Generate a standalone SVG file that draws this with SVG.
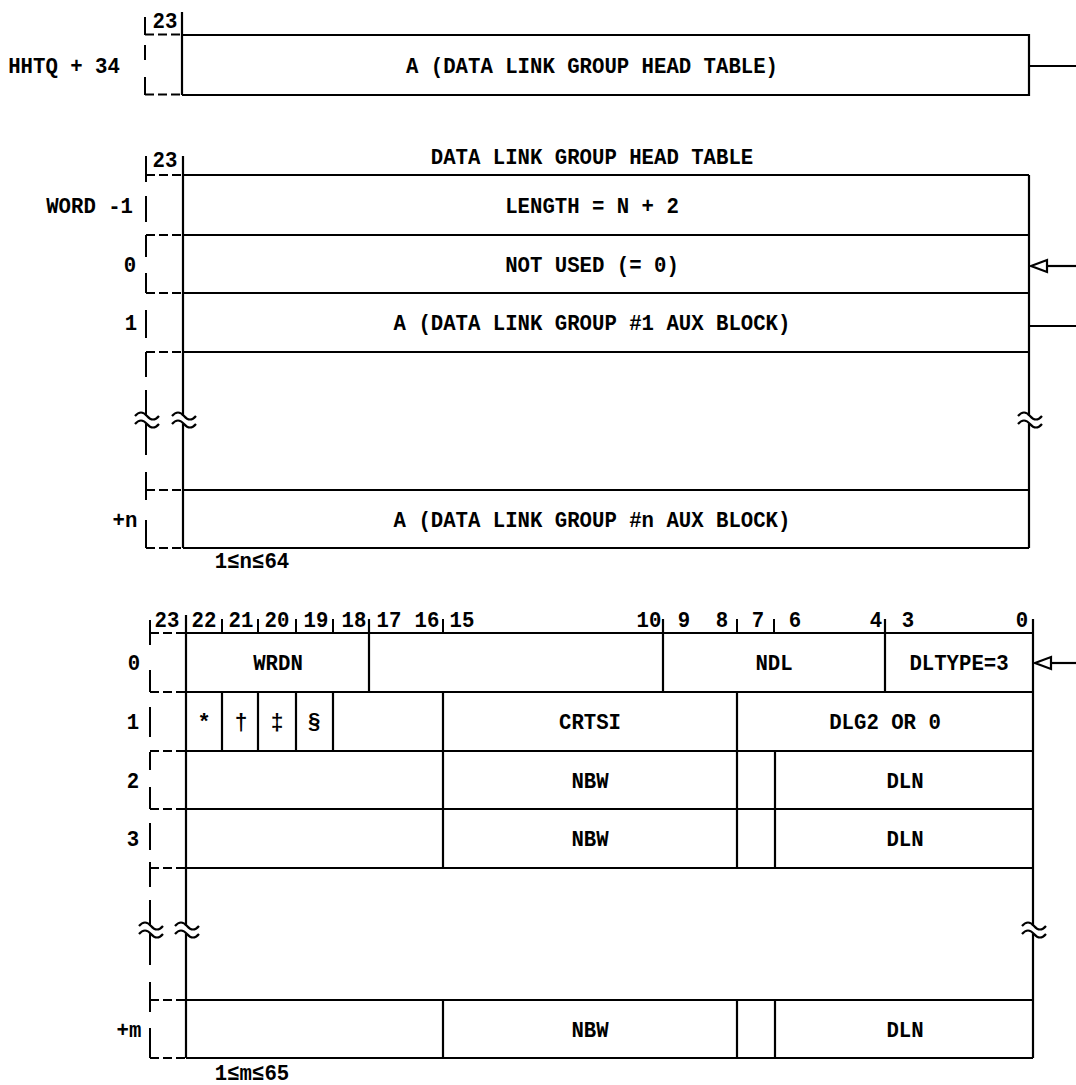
<svg xmlns="http://www.w3.org/2000/svg" xmlns:xlink="http://www.w3.org/1999/xlink" width="1076" height="1085" viewBox="0 0 1076 1085">
<style>
.ln{stroke:#000;stroke-width:2.2;fill:none}
.tk{stroke:#000;stroke-width:2;fill:none}
.ds{stroke:#000;stroke-width:2;fill:none;stroke-dasharray:9 4}
.t{font-family:"Liberation Mono","DejaVu Sans Mono",monospace;font-weight:bold;font-size:22px;text-anchor:middle;fill:#000}
.ar{fill:#fff;stroke:#000;stroke-width:2.2}
</style>
<defs>
<path id="brk" d="M-12 -4 Q-6 -11 0 -4 T12 -4 M-12 4 Q-6 -3 0 4 T12 4" stroke="#000" stroke-width="2.2" fill="none"/>
</defs>
<rect width="1076" height="1085" fill="#fff"/>

<g id="hhtq-pointer">
<path class="ln" d="M182 12 V95 M182 35 H1029 V95 H182"/>
<path class="tk" d="M145 17 V35 M145 45 V60 M145 77 V95"/>
<path class="ds" d="M145 34.5 H182 M145 94.5 H182"/>
<text class="t" x="165" y="28" textLength="24.8" lengthAdjust="spacingAndGlyphs">23</text>
<text class="t" x="64" y="73" textLength="111.6" lengthAdjust="spacingAndGlyphs">HHTQ + 34</text>
<text class="t" x="592" y="73" textLength="372" lengthAdjust="spacingAndGlyphs">A (DATA LINK GROUP HEAD TABLE)</text>
</g>

<g id="head-table">
<text class="t" x="592" y="164" textLength="322.4" lengthAdjust="spacingAndGlyphs">DATA LINK GROUP HEAD TABLE</text>
<text class="t" x="165" y="167" textLength="24.8" lengthAdjust="spacingAndGlyphs">23</text>
<path class="ln" d="M183 156 V416 M183 424 V548 M1029 175 V416 M1029 424 V548 M183 175 H1029 M183 235 H1029 M183 293 H1029 M183 352 H1029 M183 490 H1029 M183 548 H1029"/>
<path class="ds" d="M146 175 H183 M146 235 H183 M146 293 H183 M146 352 H183 M146 490 H183 M146 548 H183"/>
<path class="tk" d="M146 156 V182 M146 196 V222 M146 235 V257 M146 273 V293 M146 310 V338 M146 352 V377 M146 390 V416 M146 424 V455 M146 472 V500 M146 520 V548"/>
<use xlink:href="#brk" x="147" y="420"/>
<use xlink:href="#brk" x="184" y="420"/>
<use xlink:href="#brk" x="1030" y="420"/>
</g>
<g id="ht-word-m1">
<text class="t" x="89.6" y="213" textLength="86.8" lengthAdjust="spacingAndGlyphs">WORD -1</text>
<text class="t" x="592" y="213" textLength="173.6" lengthAdjust="spacingAndGlyphs">LENGTH = N + 2</text>
</g>
<g id="ht-word-0">
<text class="t" x="130" y="272" textLength="12.4" lengthAdjust="spacingAndGlyphs">0</text>
<text class="t" x="592" y="272" textLength="173.6" lengthAdjust="spacingAndGlyphs">NOT USED (= 0)</text>
</g>
<g id="ht-word-1">
<text class="t" x="131" y="330" textLength="12.4" lengthAdjust="spacingAndGlyphs">1</text>
<text class="t" x="592" y="330" textLength="396.8" lengthAdjust="spacingAndGlyphs">A (DATA LINK GROUP #1 AUX BLOCK)</text>
</g>
<g id="ht-word-n">
<text class="t" x="125" y="527" textLength="24.8" lengthAdjust="spacingAndGlyphs">+n</text>
<text class="t" x="592" y="527" textLength="396.8" lengthAdjust="spacingAndGlyphs">A (DATA LINK GROUP #n AUX BLOCK)</text>
<text class="t" x="252" y="568" textLength="74.4" lengthAdjust="spacingAndGlyphs">1≤n≤64</text>
</g>

<g id="aux-block">
<g class="t">
<text x="167" y="627" textLength="24.8" lengthAdjust="spacingAndGlyphs">23</text>
<text x="204" y="627" textLength="24.8" lengthAdjust="spacingAndGlyphs">22</text>
<text x="241" y="627" textLength="24.8" lengthAdjust="spacingAndGlyphs">21</text>
<text x="277" y="627" textLength="24.8" lengthAdjust="spacingAndGlyphs">20</text>
<text x="316" y="627" textLength="24.8" lengthAdjust="spacingAndGlyphs">19</text>
<text x="354" y="627" textLength="24.8" lengthAdjust="spacingAndGlyphs">18</text>
<text x="389" y="627" textLength="24.8" lengthAdjust="spacingAndGlyphs">17</text>
<text x="427" y="627" textLength="24.8" lengthAdjust="spacingAndGlyphs">16</text>
<text x="462" y="627" textLength="24.8" lengthAdjust="spacingAndGlyphs">15</text>
<text x="649" y="627" textLength="24.8" lengthAdjust="spacingAndGlyphs">10</text>
<text x="684" y="627" textLength="12.4" lengthAdjust="spacingAndGlyphs">9</text>
<text x="722" y="627" textLength="12.4" lengthAdjust="spacingAndGlyphs">8</text>
<text x="758" y="627" textLength="12.4" lengthAdjust="spacingAndGlyphs">7</text>
<text x="795" y="627" textLength="12.4" lengthAdjust="spacingAndGlyphs">6</text>
<text x="876" y="627" textLength="12.4" lengthAdjust="spacingAndGlyphs">4</text>
<text x="908" y="627" textLength="12.4" lengthAdjust="spacingAndGlyphs">3</text>
<text x="1022" y="627" textLength="12.4" lengthAdjust="spacingAndGlyphs">0</text>
</g>
<path class="ln" d="M186 615 V926 M186 934 V1058 M1033 619 V926 M1033 934 V1058 M186 633 H1033 M186 692 H1033 M186 751 H1033 M186 809 H1033 M186 868 H1033 M186 1000 H1033 M186 1058 H1033"/>
<path class="tk" d="M222 619 V633 M258 619 V633 M296 619 V633 M333 619 V633 M443 619 V633 M737 619 V633 M774 619 V633"/>
<path class="ln" d="M369 619 V692 M663 619 V692 M885 619 V692 M222 692 V751 M258 692 V751 M296 692 V751 M333 692 V751 M443 692 V868 M737 692 V868 M775 751 V868 M443 1000 V1058 M737 1000 V1058 M775 1000 V1058"/>
<path class="ds" d="M150 633 H186 M150 692 H186 M150 751 H186 M150 809 H186 M150 868 H186 M150 1000 H186 M150 1058 H186"/>
<path class="tk" d="M150 620 V645 M150 670 V692 M150 707 V737 M150 752 V770 M150 787 V809 M150 823 V850 M150 862 V887 M150 900 V926 M150 934 V965 M150 982 V1012 M150 1028 V1058"/>
<use xlink:href="#brk" x="151" y="930"/>
<use xlink:href="#brk" x="187" y="930"/>
<use xlink:href="#brk" x="1034" y="930"/>
<text class="t" x="252" y="1080" textLength="74.4" lengthAdjust="spacingAndGlyphs">1≤m≤65</text>
</g>
<g id="aux-word-0">
<text class="t" x="134" y="670" textLength="12.4" lengthAdjust="spacingAndGlyphs">0</text>
<text class="t" x="278" y="670" textLength="49.6" lengthAdjust="spacingAndGlyphs">WRDN</text>
<text class="t" x="774" y="670" textLength="37.2" lengthAdjust="spacingAndGlyphs">NDL</text>
<text class="t" x="959" y="670" textLength="99.2" lengthAdjust="spacingAndGlyphs">DLTYPE=3</text>
</g>
<g id="aux-word-1">
<text class="t" x="133" y="729" textLength="12.4" lengthAdjust="spacingAndGlyphs">1</text>
<text class="t" x="204" y="729">*</text>
<text class="t" x="241" y="729">†</text>
<text class="t" x="277" y="729">‡</text>
<text class="t" x="314" y="729">§</text>
<text class="t" x="590" y="729" textLength="62" lengthAdjust="spacingAndGlyphs">CRTSI</text>
<text class="t" x="885" y="729" textLength="111.6" lengthAdjust="spacingAndGlyphs">DLG2 OR 0</text>
</g>
<g id="aux-word-2">
<text class="t" x="133" y="788" textLength="12.4" lengthAdjust="spacingAndGlyphs">2</text>
<text class="t" x="590" y="788" textLength="37.2" lengthAdjust="spacingAndGlyphs">NBW</text>
<text class="t" x="905" y="788" textLength="37.2" lengthAdjust="spacingAndGlyphs">DLN</text>
</g>
<g id="aux-word-3">
<text class="t" x="133" y="846" textLength="12.4" lengthAdjust="spacingAndGlyphs">3</text>
<text class="t" x="590" y="846" textLength="37.2" lengthAdjust="spacingAndGlyphs">NBW</text>
<text class="t" x="905" y="846" textLength="37.2" lengthAdjust="spacingAndGlyphs">DLN</text>
</g>
<g id="aux-word-m">
<text class="t" x="129" y="1037" textLength="24.8" lengthAdjust="spacingAndGlyphs">+m</text>
<text class="t" x="590" y="1037" textLength="37.2" lengthAdjust="spacingAndGlyphs">NBW</text>
<text class="t" x="905" y="1037" textLength="37.2" lengthAdjust="spacingAndGlyphs">DLN</text>
</g>

<g id="connectors">
<path class="ln" d="M1029 66 H1076"/>
<path class="ln" d="M1047 266 H1076"/>
<polygon class="ar" points="1031,266 1047,260 1047,272"/>
<path class="ln" d="M1029 326 H1076"/>
<path class="ln" d="M1051 663 H1076"/>
<polygon class="ar" points="1035,663 1051,657 1051,669"/>
</g>
</svg>
